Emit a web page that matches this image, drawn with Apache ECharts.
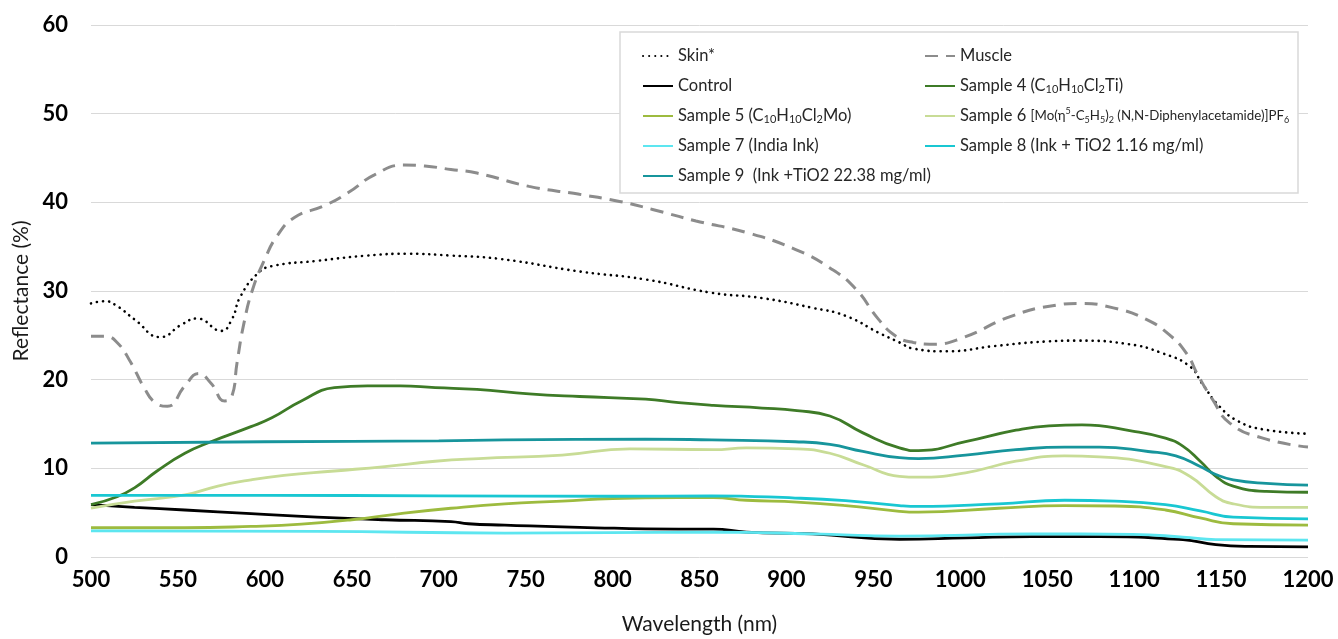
<!DOCTYPE html>
<html><head><meta charset="utf-8">
<script src="https://cdn.jsdelivr.net/npm/echarts@6/dist/echarts.min.js"></script>
<style>html,body{margin:0;padding:0;background:#fff}#c{width:1338px;height:639px}</style>
</head><body><div id="c"></div>
<script>
// ---- data (wavelength nm, reflectance %) ----
const skinWl = [500,508,515,525,540,552,561,575,581,586,596,604,630,659,682,707,736,781,819,857,886,915,934,953,965,973,992,1020,1049,1068,1097,1116,1132,1139,1149,1160,1174,1200];
const skinVal = [28.6,28.85,28.3,26.8,24.8,26.2,26.9,25.5,26.8,29.4,32.0,32.8,33.4,34.0,34.2,34.0,33.6,32.2,31.3,29.8,29.2,28.1,27.2,25.3,24.2,23.5,23.2,23.8,24.3,24.4,24.0,23.0,21.5,19.6,17.0,15.3,14.4,13.9];

const muscleWl = [500,508,515,523,530,537,544,554,562,569,577,581,584,588,593,600,607,617,634,648,663,680,692,707,722,752,781,804,823,848,877,905,925,940,953,963,973,984,1001,1030,1055,1068,1088,1107,1120,1130,1137,1145,1155,1174,1200];
const muscleVal = [24.9,24.9,24.2,21.9,19.3,17.4,17.0,19.3,20.7,19.6,17.6,18.1,21.9,26.4,30.2,33.6,36.2,38.3,39.6,41.1,43.1,44.2,44.1,43.7,43.3,41.8,40.9,40.1,39.2,37.9,36.6,34.7,32.6,30.2,26.8,24.9,24.2,24.0,24.7,27.2,28.4,28.6,28.1,26.8,25.1,23.0,20.4,17.8,15.1,13.4,12.4];

const controlWl = [500,525,554,592,630,669,707,717,738,781,838,858,877,915,965,1003,1041,1080,1128,1147,1166,1200];
const controlVal = [5.9,5.6,5.3,4.9,4.5,4.2,4.0,3.75,3.6,3.35,3.15,3.15,2.8,2.6,2.0,2.15,2.3,2.3,1.95,1.4,1.2,1.15];

const s4Wl = [500,515,525,538,554,569,592,604,621,640,659,678,698,722,752,781,819,838,858,886,906,925,944,965,976,1003,1032,1051,1070,1099,1118,1128,1138,1147,1157,1176,1200];
const s4Val = [5.9,6.8,7.8,9.7,11.7,13.0,14.7,15.7,17.6,19.1,19.3,19.3,19.1,18.9,18.4,18.1,17.8,17.4,17.1,16.8,16.5,15.9,14.0,12.3,12.0,13.0,14.3,14.8,14.9,14.2,13.4,12.5,10.8,9.1,8.0,7.4,7.3];

const s5Wl = [500,554,592,621,650,678,707,738,771,800,838,858,877,906,934,965,976,1022,1060,1089,1118,1138,1157,1200];
const s5Val = [3.3,3.3,3.45,3.7,4.2,4.9,5.5,6.0,6.3,6.6,6.7,6.7,6.4,6.2,5.8,5.15,5.05,5.5,5.8,5.75,5.3,4.4,3.75,3.6];

const s6Wl = [500,525,554,573,592,611,640,669,698,723,771,810,858,877,906,925,944,965,976,1003,1032,1060,1080,1118,1132,1147,1157,1176,1200];
const s6Val = [5.5,6.3,7.0,8.0,8.7,9.2,9.7,10.2,10.8,11.1,11.5,12.2,12.1,12.3,12.2,11.7,10.4,9.1,9.0,9.5,10.8,11.4,11.3,10.2,9.1,6.8,6.0,5.6,5.6];

const s7Wl = [500,630,738,857,915,965,1041,1099,1128,1147,1200];
const s7Val = [2.95,2.9,2.7,2.8,2.6,2.35,2.6,2.55,2.25,1.95,1.9];

const s8Wl = [500,600,700,800,857,905,934,965,976,1022,1060,1089,1118,1138,1157,1200];
const s8Val = [6.95,6.95,6.9,6.85,6.9,6.65,6.35,5.8,5.7,6.0,6.4,6.3,5.9,5.2,4.5,4.3];

const s9Wl = [500,600,700,738,819,857,905,925,944,965,976,1003,1032,1060,1080,1108,1124,1138,1147,1157,1176,1200];
const s9Val = [12.85,13.0,13.1,13.2,13.3,13.2,13.0,12.7,11.9,11.2,11.1,11.5,12.1,12.4,12.4,11.9,11.4,10.2,9.3,8.7,8.3,8.1];

const seriesNames = ['Skin*','Muscle','Control','Sample 4 (C10H10Cl2Ti)','Sample 5 (C10H10Cl2Mo)',
  'Sample 6 [Mo(η5-C5H5)2 (N,N-Diphenylacetamide)]PF6','Sample 7 (India Ink)',
  'Sample 8 (Ink + TiO2 1.16 mg/ml)','Sample 9  (Ink +TiO2 22.38 mg/ml)'];
const legendRich = {
  'Skin*': '{n|Skin*}',
  'Muscle': '{n|Muscle}',
  'Control': '{n|Control}',
  'Sample 4 (C10H10Cl2Ti)': '{n|Sample 4 (C}{s|10}{n|H}{s|10}{n|Cl}{s|2}{n|Ti)}',
  'Sample 5 (C10H10Cl2Mo)': '{n|Sample 5 (C}{s|10}{n|H}{s|10}{n|Cl}{s|2}{n|Mo)}',
  'Sample 6 [Mo(η5-C5H5)2 (N,N-Diphenylacetamide)]PF6': '{n|Sample 6 }{m|[Mo(η}{p|5}{m|-C}{ms|5}{m|H}{ms|5}{m|)}{ms|2}{m| (N,N-Diphenylacetamide)]PF}{ms|6}',
  'Sample 7 (India Ink)': '{n|Sample 7 (India Ink)}',
  'Sample 8 (Ink + TiO2 1.16 mg/ml)': '{n|Sample 8 (Ink + TiO2 1.16 mg/ml)}',
  'Sample 9  (Ink +TiO2 22.38 mg/ml)': '{n|Sample 9  (Ink +TiO2 22.38 mg/ml)}'
};

function pairs(xs, ys) { return xs.map((x, i) => [x, ys[i]]); }

const FONT = 'Lato, "DejaVu Sans", sans-serif';
const chart = echarts.init(document.getElementById('c'), null, {renderer: 'canvas'});

function mk(name, xs, ys, color, extra) {
  return Object.assign({
    name: name, type: 'line', data: pairs(xs, ys), symbol: 'none', showSymbol: false,
    smooth: 0.5, animation: false,
    lineStyle: {color: color, width: 2.8},
    itemStyle: {color: color}
  }, extra || {});
}

const TC = '#262626';
const textRich = {
  n: {fontSize: 16.5, lineHeight: 18, fontFamily: FONT, color: TC},
  s: {fontSize: 11, lineHeight: 10, verticalAlign: 'bottom', fontFamily: FONT, color: TC},
  m: {fontSize: 13.3, lineHeight: 18, fontFamily: FONT, color: TC},
  ms: {fontSize: 9, lineHeight: 8, verticalAlign: 'bottom', fontFamily: FONT, color: TC},
  p: {fontSize: 9, lineHeight: 8, verticalAlign: 'top', fontFamily: FONT, color: TC}
};

const legendBase = {
  orient: 'vertical', itemWidth: 30, itemHeight: 14, itemGap: 12, selectedMode: false,
  itemStyle: {opacity: 0, borderWidth: 0},
  formatter: n => legendRich[n] || n,
  textStyle: {fontFamily: FONT, fontSize: 16.5, lineHeight: 18, color: TC, rich: textRich}
};

const option = {
  backgroundColor: '#fff',
  animation: false,
  grid: {left: 91, right: 30, top: 25, bottom: 82, containLabel: false, outerBoundsMode: 'none'},
  xAxis: {
    type: 'value', min: 500, max: 1200, interval: 50,
    name: 'Wavelength (nm)', nameLocation: 'middle', nameGap: 57,
    nameTextStyle: {fontFamily: FONT, fontSize: 21, color: '#1a1a1a'},
    axisLine: {show: false}, axisTick: {show: false}, splitLine: {show: false},
    axisLabel: {fontFamily: FONT, fontSize: 22, fontWeight: 'bold', color: '#000', margin: 12,
      formatter: v => String(v)}
  },
  yAxis: {
    type: 'value', min: 0, max: 60, interval: 10,
    name: 'Reflectance (%)', nameLocation: 'middle', nameGap: 58,
    nameTextStyle: {fontFamily: FONT, fontSize: 21, color: '#1a1a1a'},
    axisLine: {show: false}, axisTick: {show: false},
    splitLine: {lineStyle: {color: '#d9d9d9', width: 1}},
    axisLabel: {fontFamily: FONT, fontSize: 22, fontWeight: 'bold', color: '#000', margin: 23,
      formatter: v => String(v)}
  },
  graphic: [{
    type: 'rect', z: 3, shape: {x: 620, y: 32, width: 678, height: 161},
    style: {fill: '#fff', stroke: '#d9d9d9', lineWidth: 1.5}
  }],
  legend: [
    Object.assign({}, legendBase, {left: 637, top: 42, z: 5,
      data: [seriesNames[0], seriesNames[2], seriesNames[4], seriesNames[6], seriesNames[8]]}),
    Object.assign({}, legendBase, {left: 919, top: 42, z: 5,
      data: [seriesNames[1], seriesNames[3], seriesNames[5], seriesNames[7]]})
  ],
  series: [
    mk(seriesNames[0], skinWl, skinVal, '#000000', {lineStyle: {color: '#000', width: 2.6, type: [0.1, 6], cap: 'round'}}),
    mk(seriesNames[1], muscleWl, muscleVal, '#8c8c8c', {lineStyle: {color: '#8c8c8c', width: 3, type: [13, 8]}}),
    mk(seriesNames[2], controlWl, controlVal, '#000000'),
    mk(seriesNames[3], s4Wl, s4Val, '#3e7b27'),
    mk(seriesNames[4], s5Wl, s5Val, '#9dbb3f'),
    mk(seriesNames[5], s6Wl, s6Val, '#c8dc96'),
    mk(seriesNames[6], s7Wl, s7Val, '#5de6f0'),
    mk(seriesNames[7], s8Wl, s8Val, '#19c7d2'),
    mk(seriesNames[8], s9Wl, s9Val, '#17959c')
  ]
};
chart.setOption(option);
</script></body></html>
